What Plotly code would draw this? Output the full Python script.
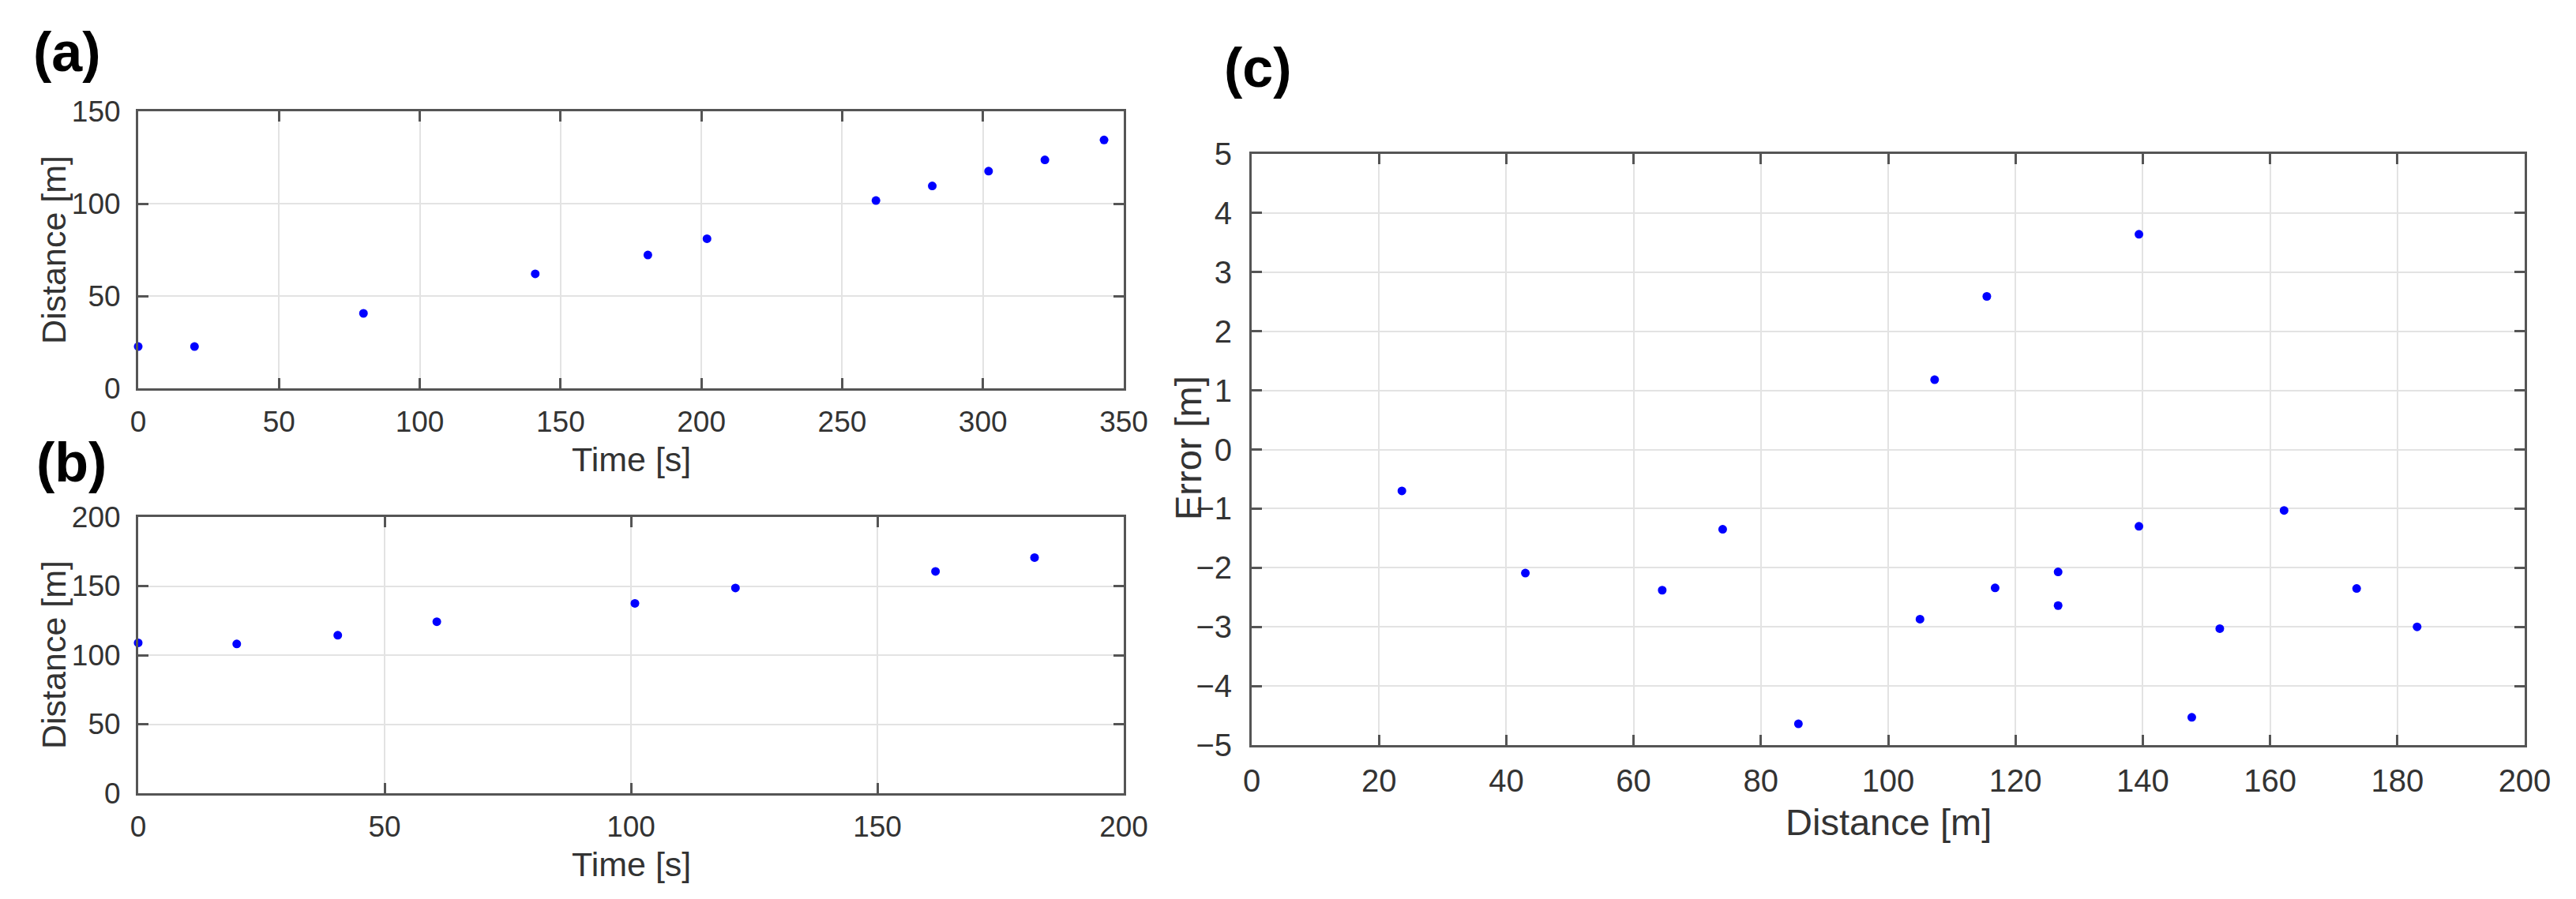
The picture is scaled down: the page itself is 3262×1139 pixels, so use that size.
import plotly.graph_objects as go

W, H = 3262, 1139

# ---- data ----
a_time = [0, 20, 80, 141, 181, 202, 262, 282, 302, 322, 343]
a_dist = [22.6, 22.6, 40.6, 62.0, 72.2, 81.0, 101.7, 109.6, 117.6, 123.7, 134.5]

b_time = [0, 20, 40.5, 60.6, 100.8, 121.2, 161.8, 181.9]
b_dist = [108.9, 108.1, 114.4, 124.2, 137.5, 148.6, 160.6, 170.6]

c_dist = [23.6, 43.0, 64.5, 74.0, 85.9, 105.0, 107.3, 115.5, 116.8, 126.7,
          126.7, 139.4, 139.4, 147.7, 152.1, 162.2, 173.6, 183.1]
c_err = [-0.70, -2.09, -2.38, -1.35, -4.64, -2.87, 1.18, 2.59, -2.34, -2.07,
         -2.64, 3.64, -1.30, -4.53, -3.03, -1.03, -2.35, -3.00]

a_xticks = [0, 50, 100, 150, 200, 250, 300, 350]
a_yticks = [0, 50, 100, 150]
b_xticks = [0, 50, 100, 150, 200]
b_yticks = [0, 50, 100, 150, 200]
c_xticks = list(range(0, 201, 20))
c_yticks = list(range(-5, 6, 1))

# ---- layout helpers (pixel -> paper) ----
def px(x):
    return x / W

def py(y):
    return 1 - y / H

AXC = "#555555"
GRID = "#e3e3e3"
TXT = "#333333"
FONT = "Liberation Sans, Arial, sans-serif"


def axis_style(domain, rng, ticks, size, anchor):
    return dict(
        domain=domain, range=rng, tickmode="array", tickvals=ticks,
        showline=True, linecolor=AXC, linewidth=3, mirror="ticks",
        ticks="inside", ticklen=13, tickwidth=3, tickcolor=AXC,
        showgrid=True, gridcolor=GRID, gridwidth=1.5, zeroline=False,
        tickfont=dict(family=FONT, size=size, color=TXT),
        anchor=anchor, fixedrange=True, automargin=False,
    )

fig = go.Figure()
marker = dict(color="#0000ff", size=11, line=dict(width=0))
fig.add_trace(go.Scatter(x=a_time, y=a_dist, mode="markers", marker=marker,
                         xaxis="x", yaxis="y", showlegend=False, cliponaxis=False))
fig.add_trace(go.Scatter(x=b_time, y=b_dist, mode="markers", marker=marker,
                         xaxis="x2", yaxis="y2", showlegend=False, cliponaxis=False))
fig.add_trace(go.Scatter(x=c_dist, y=c_err, mode="markers", marker=marker,
                         xaxis="x3", yaxis="y3", showlegend=False, cliponaxis=False))

ax_a = [px(175), px(1423)]
ay_a = [py(492), py(141)]
ax_b = [px(175), px(1423)]
ay_b = [py(1005), py(655)]
ax_c = [px(1585), px(3197)]
ay_c = [py(944), py(195)]

fig.update_layout(
    width=W, height=H, autosize=False,
    margin=dict(l=0, r=0, t=0, b=0, pad=0),
    paper_bgcolor="white", plot_bgcolor="white",
    font=dict(family=FONT, color=TXT),
    xaxis=dict(**axis_style(ax_a, [0, 350], a_xticks, 37, "y"), ticklabelstandoff=8),
    yaxis=dict(**axis_style(ay_a, [0, 150], a_yticks, 37, "x"), ticklabelstandoff=12),
    xaxis2=dict(**axis_style(ax_b, [0, 200], b_xticks, 37, "y2"), ticklabelstandoff=8),
    yaxis2=dict(**axis_style(ay_b, [0, 200], b_yticks, 37, "x2"), ticklabelstandoff=12),
    xaxis3=dict(**axis_style(ax_c, [0, 200], c_xticks, 40, "y3"), ticklabelstandoff=8),
    yaxis3=dict(**axis_style(ay_c, [-5, 5], c_yticks, 40, "x3"), ticklabelstandoff=14),
)

ann = []
def add_text(text, x, y, size, bold=False, angle=0, xanchor="center"):
    ann.append(dict(text=("<b>%s</b>" % text) if bold else text,
                    x=px(x), y=py(y), xref="paper", yref="paper",
                    xanchor=xanchor, yanchor="middle", showarrow=False,
                    textangle=angle,
                    font=dict(family=FONT, size=size,
                              color="#000000" if bold else TXT)))

# panel letters
add_text("(a)", 40, 66, 70, bold=True, xanchor="left")
add_text("(b)", 44, 586, 70, bold=True, xanchor="left")
add_text("(c)", 1548, 86, 70, bold=True, xanchor="left")

# axis titles
add_text("Time [s]", 799, 582, 43)
add_text("Distance [m]", 68, 317, 43, angle=-90)
add_text("Time [s]", 799, 1095, 43)
add_text("Distance [m]", 68, 830, 43, angle=-90)
add_text("Distance [m]", 2391, 1041, 47)
add_text("Error [m]", 1504, 568, 47, angle=-90)

fig.update_layout(annotations=ann)

fig.write_html(
    "out.html",
    config={"responsive": False, "displayModeBar": False},
    post_script=("document.documentElement.style.margin='0';"
                 "document.body.style.margin='0';"
                 "document.body.style.overflow='hidden';"
                 "document.documentElement.style.overflow='hidden';"),
)
